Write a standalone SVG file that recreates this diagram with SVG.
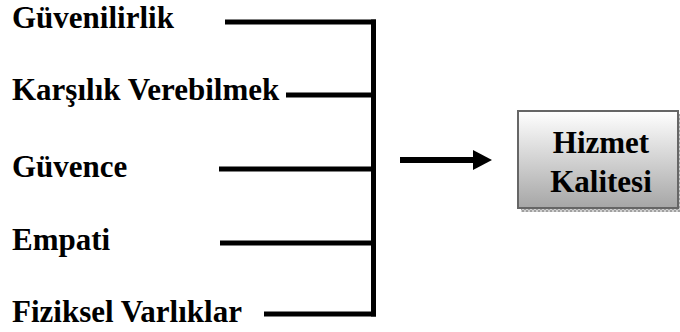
<svg xmlns="http://www.w3.org/2000/svg" width="680" height="332" viewBox="0 0 680 332">
  <style>
    .label { font-family: "Liberation Serif", "Times New Roman", serif; font-weight: bold; font-size: 31px; fill: #000; }
    .wire { stroke: #000; stroke-width: 5; fill: none; }
  </style>
  <defs>
    <linearGradient id="boxFill" x1="0" y1="0" x2="0" y2="1">
      <stop offset="0" stop-color="#ffffff"/>
      <stop offset="1" stop-color="#a6a6a6"/>
    </linearGradient>
    <pattern id="shadowDots" width="4" height="4" patternUnits="userSpaceOnUse">
      <rect width="4" height="4" fill="#d0d0d0"/>
      <rect width="2" height="2" fill="#a0a0a0"/>
      <rect x="2" y="2" width="2" height="2" fill="#a0a0a0"/>
    </pattern>
  </defs>
  <rect width="680" height="332" fill="#fff"/>

  <g id="guvenilirlik">
    <text class="label" x="12" y="28">Güvenilirlik</text>
  </g>
  <g id="karsilik-verebilmek">
    <text class="label" x="12" y="100">Karşılık Verebilmek</text>
  </g>
  <g id="guvence">
    <text class="label" x="12" y="177">Güvence</text>
  </g>
  <g id="empati">
    <text class="label" x="12" y="250">Empati</text>
  </g>
  <g id="fiziksel-varliklar">
    <text class="label" x="12" y="322">Fiziksel Varlıklar</text>
  </g>

  <!-- output box with dotted drop shadow -->
  <g id="hizmet-kalitesi">
    <rect x="521" y="114" width="159" height="98" fill="url(#shadowDots)"/>
    <rect x="518" y="111" width="160" height="97" fill="url(#boxFill)" stroke="#666" stroke-width="2"/>
    <text class="label" x="601" y="153" text-anchor="middle">Hizmet</text>
    <text class="label" x="601" y="192" text-anchor="middle">Kalitesi</text>
  </g>

  <g id="connectors">
    <line class="wire" x1="225" y1="22" x2="376" y2="22"/>
    <line class="wire" x1="286" y1="95" x2="374" y2="95"/>
    <line class="wire" x1="219" y1="169" x2="374" y2="169"/>
    <line class="wire" x1="220" y1="243" x2="374" y2="243"/>
    <line class="wire" x1="264" y1="314" x2="376" y2="314"/>
    <line class="wire" x1="373.5" y1="19.5" x2="373.5" y2="316.5"/>
    <line x1="400" y1="160" x2="475" y2="160" stroke="#000" stroke-width="6"/>
    <polygon points="473,150 492,160 473,170" fill="#000"/>
  </g>
</svg>
